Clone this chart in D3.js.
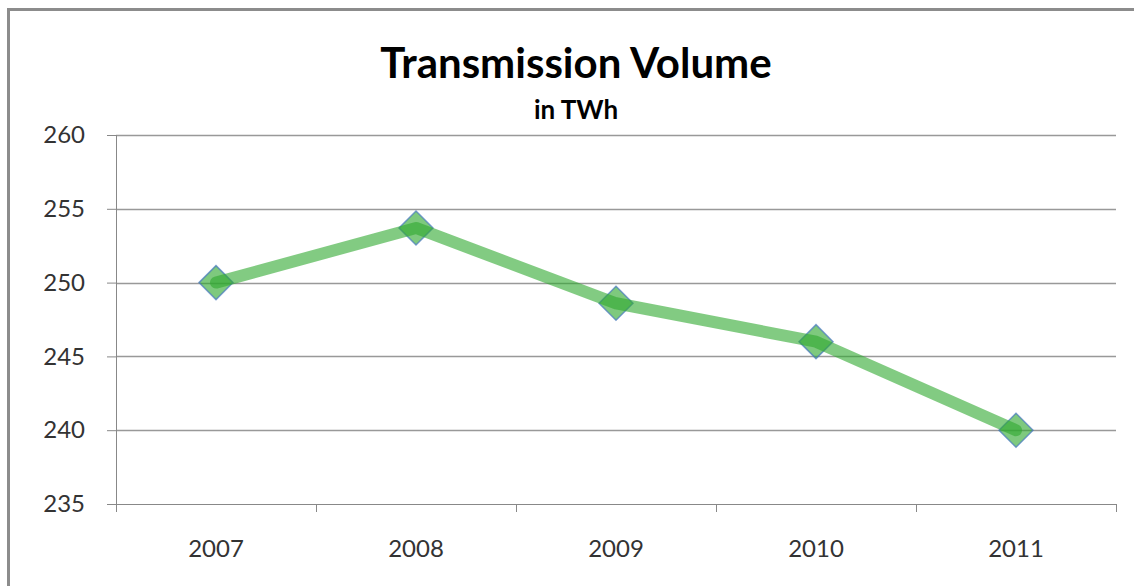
<html>
<head>
<title>Transmission Volume</title>
<script type="text/javascript" src="https://cdn.jsdelivr.net/npm/d3@7/dist/d3.min.js"></script>
<style type="text/css">
body { margin: 0; background: white; }
text { font-family: Lato, "Noto Sans", sans-serif; fill: #333; }
.axis path, .axis line { stroke: #888; }
.grid line { stroke: #999; stroke-width: 1.3px; }
</style>
</head>
<body>
<script>

var years = ["2007", "2008", "2009", "2010", "2011"];
var volume = [250.0, 253.7, 248.6, 246.0, 240.0];
var yTicks = [235, 240, 245, 250, 255, 260];

var width = 1134,
    height = 586;

var margin = {top: 135, right: 18, bottom: 82, left: 116};

var svg = d3.select("body").append("svg")
  .attr("width", width)
  .attr("height", height)
  .style("background", "white");

// outer frame, runs off the right and bottom edge like the source image
svg.append("rect")
  .attr("x", 8.5).attr("y", 9.5)
  .attr("width", width + 20).attr("height", height + 20)
  .attr("fill", "none")
  .attr("stroke", "#8c8c8c")
  .attr("stroke-width", 3);

svg.append("text")
  .attr("x", 576).attr("y", 78)
  .attr("text-anchor", "middle")
  .style("font-size", "42px").style("font-weight", "bold").style("fill", "#000")
  .text("Transmission Volume");

svg.append("text")
  .attr("x", 576).attr("y", 119)
  .attr("text-anchor", "middle")
  .style("font-size", "26px").style("font-weight", "bold").style("fill", "#000")
  .text("in TWh");

var x = d3.scaleBand()
  .domain(years)
  .range([margin.left, width - margin.right]);

var y = d3.scaleLinear()
  .domain([235, 260])
  .range([height - margin.bottom, margin.top]);

// horizontal gridlines
svg.append("g").attr("class", "grid")
  .selectAll("line")
  .data(yTicks.slice(1))
  .enter().append("line")
  .attr("x1", margin.left).attr("x2", width - margin.right)
  .attr("y1", function(d){ return Math.round(y(d)) + 0.5; })
  .attr("y2", function(d){ return Math.round(y(d)) + 0.5; });

var yAxis = svg.append("g").attr("class", "axis")
  .attr("transform", "translate(" + margin.left + ",0)")
  .call(d3.axisLeft(y).tickValues(yTicks).tickSize(9).tickPadding(22));
yAxis.select(".domain").attr("d", "M0.5," + y(260) + "V" + (y(235) + 8));
yAxis.selectAll("text").style("font-size", "24px");

// category boundary ticks on the x axis
var xAxis = svg.append("g").attr("class", "axis")
  .attr("transform", "translate(0," + (height - margin.bottom) + ")");
xAxis.append("line")
  .attr("x1", margin.left - 9).attr("x2", width - margin.right)
  .attr("y1", 0.5).attr("y2", 0.5);
xAxis.selectAll(".bound")
  .data(years.concat(["end"]))
  .enter().append("line")
  .attr("class", "bound")
  .attr("x1", function(d, i){ return Math.round(margin.left + i * x.step()) + 0.5; })
  .attr("x2", function(d, i){ return Math.round(margin.left + i * x.step()) + 0.5; })
  .attr("y1", 0).attr("y2", 8);
xAxis.selectAll(".lbl")
  .data(years)
  .enter().append("text")
  .attr("class", "lbl")
  .attr("x", function(d){ return x(d) + x.bandwidth() / 2; })
  .attr("y", 53)
  .attr("text-anchor", "middle")
  .style("font-size", "24px")
  .text(function(d){ return d; });

var pts = years.map(function(d, i){ return [x(d) + x.bandwidth() / 2, y(volume[i])]; });

var liner = d3.line()
  .x(function(d){ return d[0]; })
  .y(function(d){ return d[1]; });

// diamond markers
svg.append("g").selectAll("path")
  .data(pts)
  .enter().append("path")
  .attr("transform", function(d){ return "translate(" + d[0] + "," + d[1] + ")"; })
  .attr("d", "M0,-17L17,0L0,17L-17,0Z")
  .attr("fill", "rgba(46,168,46,0.62)")
  .attr("stroke", "rgba(70,120,190,0.7)")
  .attr("stroke-width", 1.5);

svg.append("path")
  .datum(pts)
  .attr("d", liner)
  .attr("fill", "none")
  .attr("stroke", "rgba(46,168,46,0.6)")
  .attr("stroke-width", 12)
  .attr("stroke-linecap", "round")
  .attr("stroke-linejoin", "round");

</script>
</body>
</html>
